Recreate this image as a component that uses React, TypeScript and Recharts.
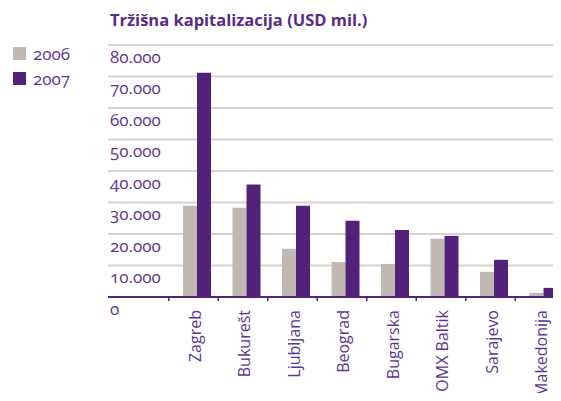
import React from 'react';
import { BarChart, Bar, XAxis, YAxis, CartesianGrid } from 'recharts';

const categories = ['Zagreb', 'Bukurešt', 'Ljubljana', 'Beograd', 'Bugarska', 'OMX Baltik', 'Sarajevo', 'Makedonija'];
const values2006 = [29000, 28300, 15300, 11100, 10500, 18500, 8000, 1300];
const values2007 = [71200, 35700, 29000, 24200, 21300, 19400, 11800, 2900];
const yTicks = [0, 10000, 20000, 30000, 40000, 50000, 60000, 70000, 80000];
const seriesNames = ['2006', '2007'];
const title = 'Tržišna kapitalizacija (USD mil.)';

const GRAY = '#c2b8b2';
const PURPLE = '#52217a';
const TEXT = '#5e3592';
const GRID = '#d8d2ce';
const FONT = '"Open Sans", sans-serif';

const data = categories.map((c, i) => ({ name: c, y2006: values2006[i], y2007: values2007[i] }));

const fmt = (v: number) => (v === 0 ? '0' : String(v).replace(/(\d)(?=(\d{3})+$)/g, '$1.'));

const YTick = (props: any) => {
  const { y, payload } = props;
  return (
    <text x={110} y={y + 11} dominantBaseline="central" textAnchor="start" fill={TEXT} fontFamily={FONT} fontSize={17} style={{ fontVariantNumeric: 'oldstyle-nums' }}>
      {fmt(payload.value)}
    </text>
  );
};

const XTick = (props: any) => {
  const { x, payload } = props;
  return (
    <g>
      <line x1={x - 28} x2={x - 28} y1={297} y2={301} stroke={PURPLE} strokeWidth={1.5} />
      <text x={x - 2} y={310} transform={`rotate(-90 ${x - 2} 310)`} textAnchor="end" dominantBaseline="central" fill={TEXT} fontFamily={FONT} fontSize={16}>
        {payload.value}
      </text>
    </g>
  );
};

export default function App() {
  return (
    <div style={{ position: 'relative', width: 561, height: 401, overflow: 'hidden', margin: -8, background: '#fff' }}>
      <div style={{ position: 'absolute', left: 110, top: 8, color: '#5a2a88', fontFamily: FONT, fontWeight: 700, fontSize: 16.5, whiteSpace: 'nowrap' }}>
        {title}
      </div>
      <div style={{ position: 'absolute', left: 13, top: 41, fontFamily: FONT }}>
        {seriesNames.map((n, i) => (
          <div key={n} style={{ display: 'flex', alignItems: 'center', height: 25 }}>
            <div style={{ width: 13, height: 13, background: i === 0 ? GRAY : PURPLE, marginRight: 7 }} />
            <span style={{ color: TEXT, fontSize: 17, fontVariantNumeric: 'oldstyle-nums' }}>{n}</span>
          </div>
        ))}
      </div>
      <BarChart width={570} height={401} data={data} margin={{ top: 45, right: 2, left: 107, bottom: 0 }} barGap={0}>
        <CartesianGrid horizontal vertical={false} stroke={GRID} strokeWidth={2} />
        <YAxis width={1} domain={[0, 80000]} ticks={yTicks} axisLine={false} tickLine={false} tick={<YTick />} interval={0} />
        <XAxis dataKey="name" height={104} padding={{ left: 64, right: 0 }} axisLine={{ stroke: PURPLE, strokeWidth: 2 }} tickLine={false} tick={<XTick />} interval={0} />
        <Bar dataKey="y2006" name={seriesNames[0]} fill={GRAY} barSize={14} isAnimationActive={false} />
        <Bar dataKey="y2007" name={seriesNames[1]} fill={PURPLE} barSize={14} isAnimationActive={false} />
      </BarChart>
    </div>
  );
}
